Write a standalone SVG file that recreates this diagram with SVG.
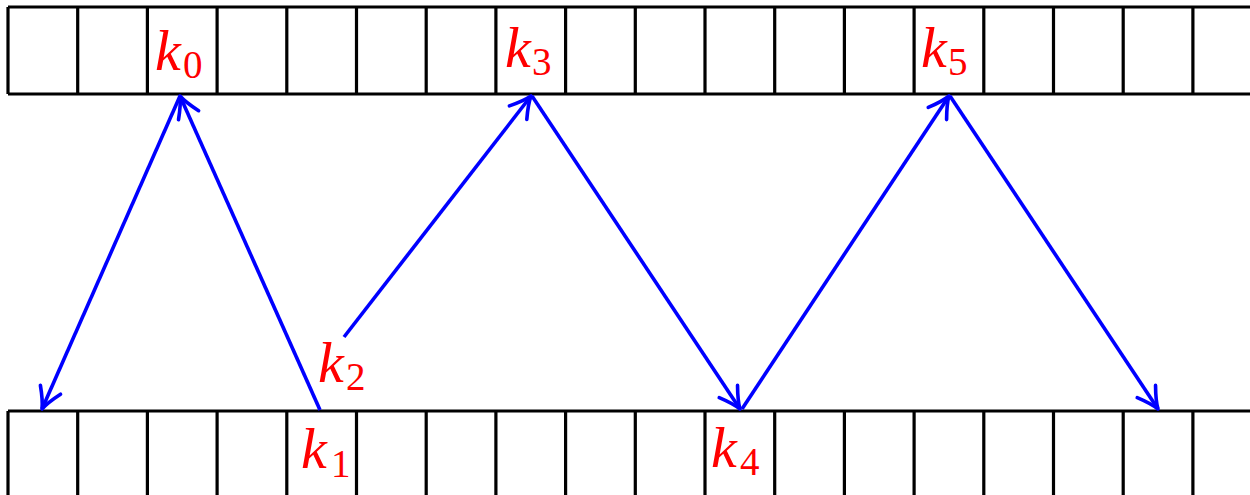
<svg xmlns="http://www.w3.org/2000/svg" width="1250" height="495" viewBox="0 0 1250 495">
<style>
.cell{fill:none;stroke:#000;stroke-width:3.2}
.conn{fill:none;stroke:#0000ff;stroke-width:3.6}
.lbl{font-family:"Liberation Serif",serif;fill:#ff0000}
.k{font-style:italic;font-size:58px}
.s{font-size:39px}
</style>
<defs>
<marker id="ah" markerUnits="userSpaceOnUse" viewBox="-25 -15 30 30" markerWidth="30" markerHeight="30" refX="0" refY="0" orient="auto" overflow="visible">
<path d="M -21,-11 Q -8,-2.5 0,0 Q -8,2.5 -21,11" fill="none" stroke="#0000ff" stroke-width="3.6" stroke-linecap="round" stroke-linejoin="round"/>
</marker>
</defs>
<rect width="1250" height="495" fill="#fff"/>
<g id="top-row">
<line class="cell" x1="8" y1="7" x2="1250" y2="7"/>
<line class="cell" x1="8" y1="94" x2="1250" y2="94"/>
<path class="cell" d="M8,7V94 M77.7,7V94 M147.4,7V94 M217.1,7V94 M286.8,7V94 M356.5,7V94 M426.2,7V94 M495.9,7V94 M565.6,7V94 M635.3,7V94 M705,7V94 M774.7,7V94 M844.4,7V94 M914.1,7V94 M983.8,7V94 M1053.5,7V94 M1123.2,7V94 M1192.9,7V94"/>
</g>
<g id="bottom-row">
<line class="cell" x1="8" y1="411" x2="1250" y2="411"/>
<path class="cell" d="M8,411V495 M77.7,411V495 M147.4,411V495 M217.1,411V495 M286.8,411V495 M356.5,411V495 M426.2,411V495 M495.9,411V495 M565.6,411V495 M635.3,411V495 M705,411V495 M774.7,411V495 M844.4,411V495 M914.1,411V495 M983.8,411V495 M1053.5,411V495 M1123.2,411V495 M1192.9,411V495"/>
</g>
<g id="connectors">
<line class="conn" x1="180" y1="96" x2="42" y2="409" marker-end="url(#ah)"/>
<line class="conn" x1="320" y1="410" x2="180" y2="96" marker-end="url(#ah)"/>
<line class="conn" x1="344" y1="337" x2="531" y2="96" marker-end="url(#ah)"/>
<line class="conn" x1="532" y1="96" x2="740" y2="409" marker-end="url(#ah)"/>
<line class="conn" x1="742" y1="409" x2="949" y2="96" marker-end="url(#ah)"/>
<line class="conn" x1="950" y1="96" x2="1158" y2="409" marker-end="url(#ah)"/>
</g>
<g id="k0"><text class="lbl k" x="155" y="70">k</text><text class="lbl s" x="183" y="78">0</text></g>
<g id="k1"><text class="lbl k" x="301" y="468">k</text><text class="lbl s" x="331" y="477">1</text></g>
<g id="k2"><text class="lbl k" x="318" y="382">k</text><text class="lbl s" x="346" y="390">2</text></g>
<g id="k3"><text class="lbl k" x="505" y="67">k</text><text class="lbl s" x="532" y="75">3</text></g>
<g id="k4"><text class="lbl k" x="711" y="467">k</text><text class="lbl s" x="740" y="475">4</text></g>
<g id="k5"><text class="lbl k" x="921" y="67">k</text><text class="lbl s" x="948" y="75">5</text></g>
</svg>
